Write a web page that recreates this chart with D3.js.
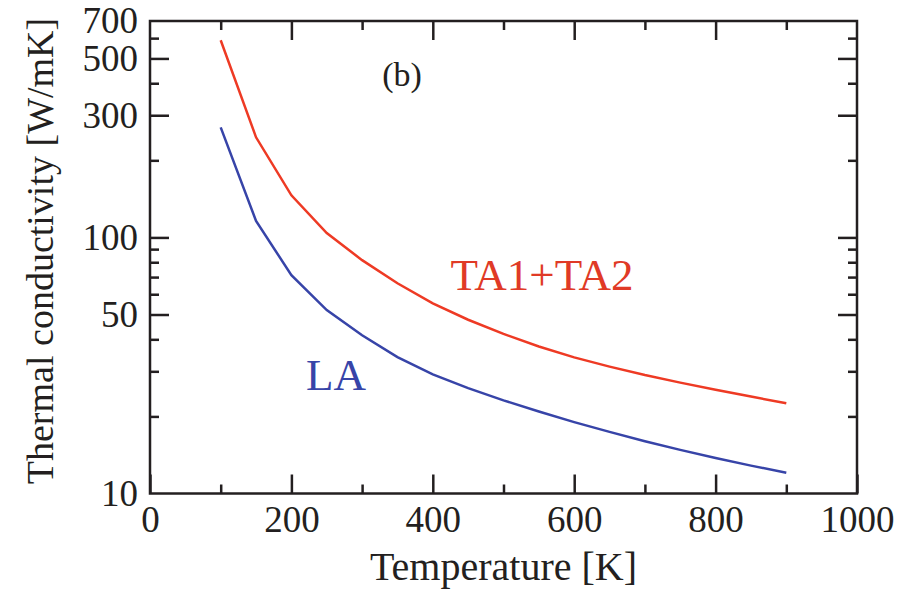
<!DOCTYPE html>
<html>
<head>
<meta charset="utf-8">
<script src="https://cdn.jsdelivr.net/npm/d3@7"></script>
<style>
  html, body { margin: 0; padding: 0; background: #fff; }
  svg { display: block; }
</style>
</head>
<body>
<svg id="chart" width="903" height="594"></svg>
<script>
// ---- data ----
const temperatures = [100,150,200,250,300,350,400,450,500,550,600,650,700,750,800,850,900];
const taValues = [589,246,146,104,81.5,66.2,55.3,47.7,42.0,37.5,34.0,31.3,29.0,27.1,25.4,23.9,22.5];
const laValues = [269,116,71.2,52.0,41.5,34.1,29.2,25.8,23.1,20.9,19.0,17.4,16.0,14.8,13.75,12.85,12.05];
const xMajorTicks = [0,200,400,600,800,1000];
const xMinorTicks = [100,300,500,700,900];
const yMajorTicks = [10,50,100,300,500];
const yLabelTicks = [10,50,100,300,500,700];
const yMinorTicks = [20,30,40,60,70,80,90,200,400,600];
const seriesNames = ["TA1+TA2", "LA"];
const panelLabel = "(b)";
const xTitle = "Temperature [K]";
const yTitle = "Thermal conductivity [W/mK]";

// ---- layout ----
const FONT = '"Liberation Serif"';
const L = 150, R = 857, T = 21, B = 493.5;
const MAJ = 19, MIN = 9;
const red = "#ee3a24", blue = "#3744a8", ink = "#231f20";
const svg = d3.select("#chart");

const x = d3.scaleLinear().domain([0, 1000]).range([L, R]);
const y = d3.scaleLog().domain([10, 700]).range([B, T]);

function styleAxis(g) {
  g.attr("font-family", FONT);
  g.select(".domain").remove();
  g.selectAll(".tick line").attr("stroke", ink).attr("stroke-width", 2.5);
  g.selectAll(".tick text").attr("font-size", 37).attr("fill", ink).attr("font-family", FONT);
}

// bottom
svg.append("g").attr("transform", `translate(0,${B})`)
  .call(d3.axisBottom(x).tickValues(xMajorTicks).tickSize(-MAJ).tickPadding(12).tickFormat(d3.format("d")))
  .call(styleAxis);
svg.append("g").attr("transform", `translate(0,${B})`)
  .call(d3.axisBottom(x).tickValues(xMinorTicks).tickSize(-MIN).tickFormat(""))
  .call(styleAxis);
// top
svg.append("g").attr("transform", `translate(0,${T})`)
  .call(d3.axisTop(x).tickValues(xMajorTicks.filter(d => d > 0 && d < 1000)).tickSize(-MAJ).tickFormat(""))
  .call(styleAxis);
svg.append("g").attr("transform", `translate(0,${T})`)
  .call(d3.axisTop(x).tickValues(xMinorTicks).tickSize(-MIN).tickFormat(""))
  .call(styleAxis);
// left
svg.append("g").attr("transform", `translate(${L},0)`)
  .call(d3.axisLeft(y).tickValues(yMajorTicks.filter(d => d > 10)).tickSize(-MAJ).tickFormat(""))
  .call(styleAxis);
svg.append("g").attr("transform", `translate(${L},0)`)
  .call(d3.axisLeft(y).tickValues(yLabelTicks).tickSize(0).tickPadding(12).tickFormat(d3.format("d")))
  .call(styleAxis);
svg.append("g").attr("transform", `translate(${L},0)`)
  .call(d3.axisLeft(y).tickValues(yMinorTicks).tickSize(-MIN).tickFormat(""))
  .call(styleAxis);
// right
svg.append("g").attr("transform", `translate(${R},0)`)
  .call(d3.axisRight(y).tickValues(yMajorTicks.filter(d => d > 10)).tickSize(-MAJ).tickFormat(""))
  .call(styleAxis);
svg.append("g").attr("transform", `translate(${R},0)`)
  .call(d3.axisRight(y).tickValues(yMinorTicks).tickSize(-MIN).tickFormat(""))
  .call(styleAxis);

// frame
svg.append("rect").attr("x", L).attr("y", T).attr("width", R - L).attr("height", B - T)
  .attr("fill", "none").attr("stroke", ink).attr("stroke-width", 2.5);

// lines
const line = d3.line().x(d => x(d[0])).y(d => y(d[1]));
svg.append("path").datum(temperatures.map((t, i) => [t, taValues[i]]))
  .attr("d", line).attr("fill", "none").attr("stroke", red).attr("stroke-width", 2.5);
svg.append("path").datum(temperatures.map((t, i) => [t, laValues[i]]))
  .attr("d", line).attr("fill", "none").attr("stroke", blue).attr("stroke-width", 2.5);

// annotations
function label(txt, xx, yy, size, color) {
  return svg.append("text").attr("x", xx).attr("y", yy).attr("text-anchor", "middle")
    .attr("font-family", FONT).attr("font-size", size).attr("fill", color).text(txt);
}
label(seriesNames[0], 542, 290, 45, "#e03a26");
label(seriesNames[1], 336, 390, 45, blue);
label(panelLabel, 402, 86, 34, ink);
label(xTitle, (L + R) / 2, 580, 40, ink);
label(yTitle, 0, 0, 38, ink).attr("transform", `translate(53,${(15 + 487) / 2}) rotate(-90)`);
</script>
</body>
</html>
